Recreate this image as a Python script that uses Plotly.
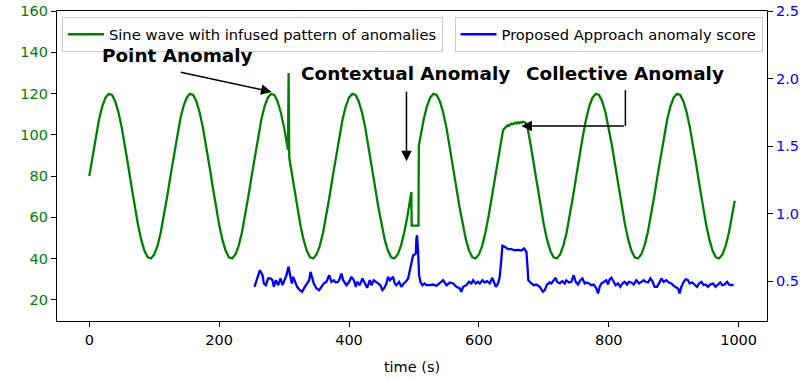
import plotly.graph_objects as go

# ---------------- data ----------------
sine_t = [
    0, 5, 10, 15, 20, 25, 30, 35, 40, 45, 50, 55, 60, 65, 70, 75, 80, 85, 90, 95, 100, 105, 110, 115, 120,
    125, 130, 135, 140, 145, 150, 155, 160, 165, 170, 175, 180, 185, 190, 195, 200, 205, 210, 215, 220, 225, 230, 235, 240, 245,
    250, 255, 260, 265, 270, 275, 280, 285, 290, 295, 300, 305, 306, 307, 308, 310, 315, 320, 325, 330, 335, 340, 345, 350, 355, 360, 365, 370,
    375, 380, 385, 390, 395, 400, 405, 410, 415, 420, 425, 430, 435, 440, 445, 450, 455, 460, 465, 470, 475, 480, 485, 490, 495, 496, 496.5,
    500, 505, 507, 507.5, 510, 515, 520, 525, 530, 535, 540, 545, 550, 555, 560, 565, 570, 575, 580, 585, 590, 595, 600, 605, 610, 615, 620,
    625, 630, 635, 637, 638, 640, 642, 644, 646, 648, 650, 652, 654, 656, 658, 660, 662, 664, 666, 668, 670, 672, 674, 675,
    680, 685, 690, 695, 700, 705, 710, 715, 720, 725, 730, 735, 740, 745,
    750, 755, 760, 765, 770, 775, 780, 785, 790, 795, 800, 805, 810, 815, 820, 825, 830, 835, 840, 845, 850, 855, 860, 865, 870,
    875, 880, 885, 890, 895, 900, 905, 910, 915, 920, 925, 930, 935, 940, 945, 950, 955, 960, 965, 970, 975, 980, 985, 990, 994,
]
sine_v = [
    80.0, 89.9, 99.3, 107.4, 113.8, 118.0, 119.9, 119.3, 116.2, 110.8, 103.5, 94.7, 85.0, 75.0, 65.3, 56.5, 49.2, 43.8, 40.7, 40.1, 42.0, 46.2, 52.6, 60.7, 70.1,
    80.0, 89.9, 99.3, 107.4, 113.8, 118.0, 119.9, 119.3, 116.2, 110.8, 103.5, 94.7, 85.0, 75.0, 65.3, 56.5, 49.2, 43.8, 40.7, 40.1, 42.0, 46.2, 52.6, 60.7, 70.1,
    80.0, 89.9, 99.3, 107.4, 113.8, 118.0, 119.9, 119.3, 116.2, 110.8, 103.5, 94.7, 92.8, 130.0, 89.0, 85.0, 75.0, 65.3, 56.5, 49.2, 43.8, 40.7, 40.1, 42.0, 46.2, 52.6, 60.7, 70.1,
    80.0, 89.9, 99.3, 107.4, 113.8, 118.0, 119.9, 119.3, 116.2, 110.8, 103.5, 94.7, 85.0, 75.0, 65.3, 56.5, 49.2, 43.8, 40.7, 40.1, 42.0, 46.2, 52.6, 60.7, 70.1, 72.3, 56.0,
    56.0, 56.0, 56.0, 94.7, 99.3, 107.4, 113.8, 118.0, 119.9, 119.3, 116.2, 110.8, 103.5, 94.7, 85.0, 75.0, 65.3, 56.5, 49.2, 43.8, 40.7, 40.1, 42.0, 46.2, 52.6, 60.7, 70.1,
    80.0, 89.9, 99.3, 101.8, 102.6, 103.4, 103.9, 104.6, 104.3, 105.0, 105.4, 105.1, 105.6, 105.9, 105.5, 106.0, 105.7, 106.2, 105.9, 106.4, 106.0, 105.8, 105.1, 103.5,
    94.7, 85.0, 75.0, 65.3, 56.5, 49.2, 43.8, 40.7, 40.1, 42.0, 46.2, 52.6, 60.7, 70.1,
    80.0, 89.9, 99.3, 107.4, 113.8, 118.0, 119.9, 119.3, 116.2, 110.8, 103.5, 94.7, 85.0, 75.0, 65.3, 56.5, 49.2, 43.8, 40.7, 40.1, 42.0, 46.2, 52.6, 60.7, 70.1,
    80.0, 89.9, 99.3, 107.4, 113.8, 118.0, 119.9, 119.3, 116.2, 110.8, 103.5, 94.7, 85.0, 75.0, 65.3, 56.5, 49.2, 43.8, 40.7, 40.1, 42.0, 46.2, 52.6, 60.7, 68.1,
]

score_t = [
    254.5, 258.6, 262.7, 266.8, 268.8, 271.9, 275.5, 279.1, 282.2, 284.2, 287.3, 290.9, 294.5, 297.6, 301.2, 303.7,
    306.8, 309.9, 311.9, 314.0, 316.6, 320.1, 324.3, 327.8, 332.0, 335.5, 338.6, 340.7, 343.7, 345.8, 349.9, 354.0,
    357.6, 361.2, 365.3, 369.4, 373.0, 376.6, 379.7, 383.2, 385.8, 388.4, 390.9, 393.5, 396.1, 400.2, 403.8, 407.4,
    410.4, 412.5, 416.6, 420.7, 424.3, 427.9, 432.0, 434.5, 438.1, 441.2, 444.8, 448.4, 451.5, 454.0, 457.6, 460.2,
    462.8, 465.3, 467.9, 470.5, 473.0, 477.1, 480.7, 484.3, 487.4, 491.0, 493.5, 496.1, 498.7, 501.2, 502.8, 503.8,
    504.8, 506.4, 507.9, 510.0, 513.0, 516.6, 519.2, 524.3,
    529.5, 534.7, 539.8, 544.9, 550.1, 555.2, 560.3, 565.4, 570.6, 573.1, 575.7, 580.8, 584.9, 588.5, 591.1, 595.2,
    598.8, 601.4, 605.5, 609.0, 612.6, 616.7, 620.8, 622.9, 626.0, 629.6, 632.1, 634.7, 636.2, 639.8, 645.0, 650.1,
    655.2, 660.3, 665.5, 669.6, 673.2, 674.7, 676.2, 680.9, 684.5, 688.6, 693.7, 698.8, 701.4, 705.0, 709.1, 711.6,
    715.2, 718.3, 720.4, 724.5, 728.6, 732.2, 734.7, 738.8, 742.4, 746.0, 749.1, 752.7, 756.3, 759.4, 763.0, 765.5,
    769.6, 773.2, 776.8, 780.9, 783.5, 786.0, 788.6, 792.2, 796.3, 798.9,
    801.5, 804.1, 807.6, 810.7, 814.3, 817.9, 821.0, 824.6, 828.2, 831.2, 834.8, 838.4, 842.5, 846.6, 850.2, 853.8,
    856.9, 860.5, 864.1, 867.2, 870.7, 874.3, 877.4, 881.0, 884.6, 888.7, 892.8, 896.4, 900.0, 903.1, 906.7, 909.2,
    911.8, 915.4, 918.5, 922.0, 924.6, 928.7, 932.3, 935.9, 939.0, 942.6, 946.2, 949.2, 952.8, 956.4, 960.5, 964.6,
    968.2, 971.8, 974.9, 978.5, 982.1, 985.1, 988.7, 992.3,
]
score_v = [
    0.458, 0.520, 0.581, 0.544, 0.483, 0.470, 0.520, 0.520, 0.507, 0.458, 0.507, 0.470, 0.520, 0.470, 0.507, 0.544,
    0.606, 0.544, 0.483, 0.532, 0.495, 0.458, 0.433, 0.421, 0.458, 0.483, 0.507, 0.569, 0.520, 0.483, 0.446, 0.433,
    0.458, 0.483, 0.495, 0.544, 0.495, 0.507, 0.490, 0.495, 0.520, 0.557, 0.507, 0.483, 0.470, 0.495, 0.532, 0.507,
    0.458, 0.495, 0.470, 0.520, 0.483, 0.451, 0.507, 0.470, 0.507, 0.495, 0.483, 0.470, 0.433, 0.446, 0.483, 0.532,
    0.507, 0.520, 0.532, 0.483, 0.470, 0.495, 0.458, 0.483, 0.495, 0.520, 0.569, 0.643, 0.692, 0.697, 0.705, 0.817,
    0.840, 0.717, 0.544, 0.495, 0.470, 0.483, 0.470, 0.470,
    0.475, 0.465, 0.483, 0.507, 0.470, 0.490, 0.483, 0.458, 0.446, 0.421, 0.458, 0.470, 0.495, 0.483, 0.507, 0.483,
    0.495, 0.483, 0.507, 0.490, 0.500, 0.483, 0.525, 0.495, 0.458, 0.483, 0.532, 0.668, 0.762, 0.754, 0.737, 0.737,
    0.729, 0.732, 0.727, 0.742, 0.717, 0.618, 0.507, 0.483, 0.470, 0.475, 0.458, 0.421, 0.433, 0.475, 0.490, 0.483,
    0.507, 0.525, 0.495, 0.483, 0.500, 0.483, 0.507, 0.490, 0.495, 0.544, 0.495, 0.475, 0.507, 0.520, 0.483, 0.490,
    0.483, 0.470, 0.475, 0.446, 0.409, 0.458, 0.483, 0.495, 0.507, 0.475,
    0.515, 0.525, 0.490, 0.470, 0.483, 0.458, 0.483, 0.495, 0.475, 0.495, 0.490, 0.475, 0.507, 0.483, 0.495, 0.507,
    0.495, 0.490, 0.520, 0.500, 0.458, 0.458, 0.483, 0.520, 0.495, 0.507, 0.490, 0.483, 0.465, 0.458, 0.446, 0.409,
    0.458, 0.495, 0.515, 0.507, 0.483, 0.490, 0.475, 0.458, 0.483, 0.495, 0.470, 0.475, 0.458, 0.475, 0.483, 0.458,
    0.475, 0.490, 0.470, 0.475, 0.495, 0.475, 0.470, 0.475,
]

x_ticks = [0, 200, 400, 600, 800, 1000]
left_ticks = [20, 40, 60, 80, 100, 120, 140, 160]
right_ticks = [0.5, 1.0, 1.5, 2.0, 2.5]
right_tick_text = ["0.5", "1.0", "1.5", "2.0", "2.5"]

sine_name = "Sine wave with infused pattern of anomalies"
score_name = "Proposed Approach anomaly score"
labels = ["Point Anomaly", "Contextual Anomaly", "Collective Anomaly"]

# ---------------- styling ----------------
GREEN = "#008000"
BLUE = "#0000FF"
FONT = "DejaVu Sans"
FS = 14.5
LFS = 14.7

fig = go.Figure()
fig.add_trace(go.Scatter(x=sine_t, y=sine_v, mode="lines", name=sine_name,
                         line=dict(color=GREEN, width=2.3), legend="legend"))
fig.add_trace(go.Scatter(x=score_t, y=score_v, mode="lines", name=score_name,
                         line=dict(color=BLUE, width=2.3), yaxis="y2", legend="legend2"))

common_axis = dict(showline=True, linecolor="black", linewidth=1.2, ticks="outside",
                   ticklen=5, tickwidth=1.2, tickcolor="black", showgrid=False,
                   zeroline=False, automargin=False)

fig.update_layout(
    width=810, height=381,
    margin=dict(l=57, r=43, t=11, b=60),
    plot_bgcolor="white", paper_bgcolor="white",
    font=dict(family=FONT, size=FS, color="black"),
    xaxis=dict(range=[-49.7, 1043.7], tickvals=x_ticks, mirror=True,
               tickfont=dict(family=FONT, size=FS, color="black"),
               title=dict(text="time (s)", font=dict(family=FONT, size=FS), standoff=15),
               **common_axis),
    yaxis=dict(range=[9.8, 160], tickvals=left_ticks, mirror=True,
               tickfont=dict(family=FONT, size=FS, color=GREEN), **common_axis),
    yaxis2=dict(range=[0.205, 2.5], tickvals=right_ticks, ticktext=right_tick_text,
                overlaying="y", side="right",
                tickfont=dict(family=FONT, size=FS, color=BLUE), **common_axis),
    legend=dict(x=0.007, y=0.98, xanchor="left", yanchor="top",
                bgcolor="rgba(255,255,255,0.8)", bordercolor="#cccccc", borderwidth=1,
                font=dict(family=FONT, size=LFS, color="black"), itemwidth=36),
    legend2=dict(x=0.9937, y=0.98, xanchor="right", yanchor="top",
                 bgcolor="rgba(255,255,255,0.8)", bordercolor="#cccccc", borderwidth=1,
                 font=dict(family=FONT, size=LFS, color="black"), itemwidth=36),
    showlegend=True,
)

# text labels
label_pos = [(136.5, 138.6), (487.5, 129.8), (824.5, 129.8)]
for txt, (lx, ly) in zip(labels, label_pos):
    fig.add_annotation(x=lx, y=ly, xref="x", yref="y", text="<b>" + txt + "</b>",
                       showarrow=False, font=dict(family=FONT, size=18.4, color="black"))

# arrows
arrows = [((280.7, 120.8), (138.5, 130.5)),
          ((488.5, 87.2), (488.5, 121.6)),
          ((665.5, 104.3), (825.6, 104.3))]
for (hx, hy), (tx, ty) in arrows:
    fig.add_annotation(x=hx, y=hy, ax=tx, ay=ty, xref="x", yref="y", axref="x", ayref="y",
                       text="", showarrow=True, arrowhead=2, arrowsize=1.4,
                       arrowwidth=1.5, arrowcolor="black", standoff=0)
fig.add_shape(type="line", xref="x", yref="y", x0=825.6, y0=121.6, x1=825.6, y1=104.3,
              line=dict(color="black", width=1.5))

fig.write_html("out.html", config={"displayModeBar": False},
               post_script="document.body.style.margin='0px';document.body.style.padding='0px';")
